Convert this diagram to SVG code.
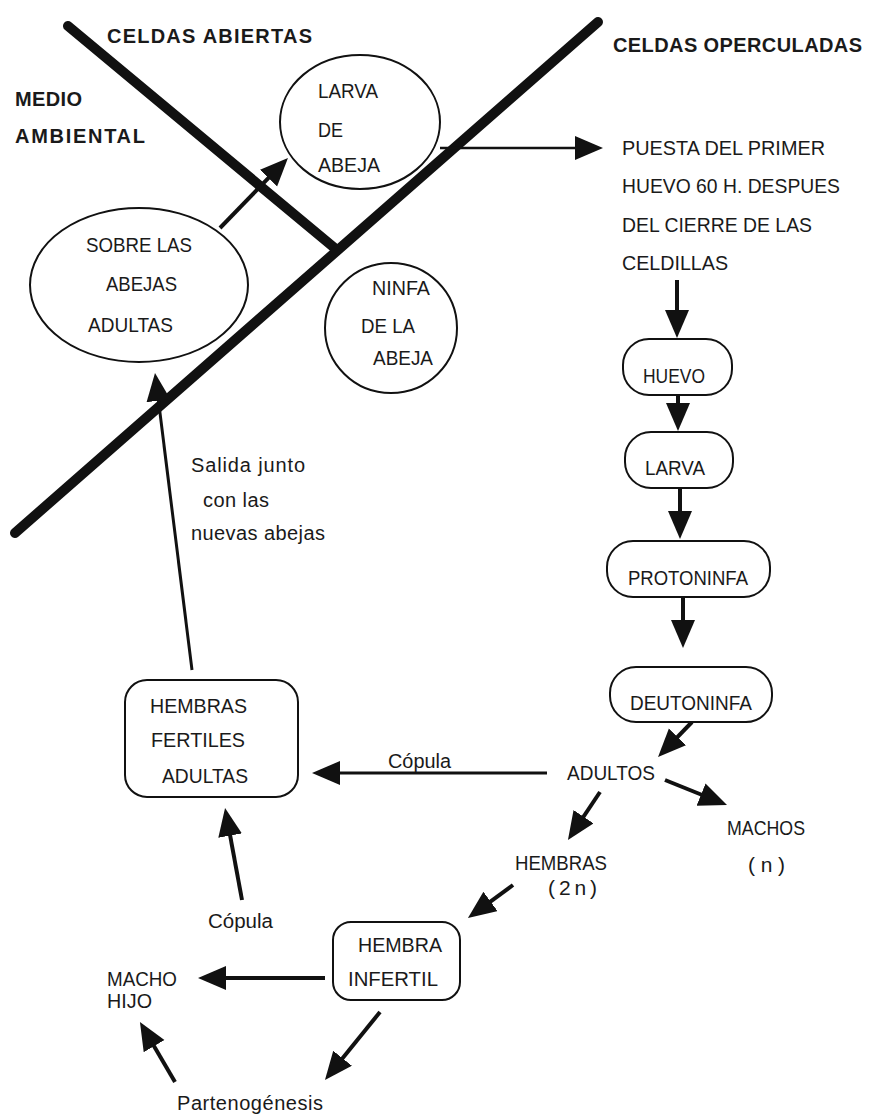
<svg xmlns="http://www.w3.org/2000/svg" width="871" height="1116" viewBox="0 0 871 1116">
<style>
.t{font-family:"Liberation Sans",Arial,sans-serif;font-size:21px;fill:#1a1a1a}
.b{font-family:"Liberation Sans",Arial,sans-serif;font-size:20px;font-weight:bold;fill:#1a1a1a}
.l{font-family:"Liberation Sans",Arial,sans-serif;font-size:20px;fill:#1a1a1a}
.sh{fill:#fff;stroke:#111;stroke-width:2}
.wall{stroke:#111;stroke-width:10;stroke-linecap:round;fill:none}
.a{stroke:#111;stroke-width:4;fill:none;marker-end:url(#ah)}
.a2{stroke:#111;stroke-width:2.5;fill:none;marker-end:url(#ah)}
</style>
<defs>
<marker id="ah" markerUnits="userSpaceOnUse" markerWidth="30" markerHeight="26" refX="20" refY="12" orient="auto">
<path d="M0,0 L28,12 L0,24 z" fill="#111"/>
</marker>
</defs>
<rect width="871" height="1116" fill="#fff"/>

<g id="larva-abeja">
<ellipse class="sh" cx="360" cy="122" rx="80" ry="67"/>
<text class="t" x="318" y="98" textLength="60" lengthAdjust="spacingAndGlyphs">LARVA</text>
<text class="t" x="318" y="137" textLength="25" lengthAdjust="spacingAndGlyphs">DE</text>
<text class="t" x="318" y="172" textLength="62" lengthAdjust="spacingAndGlyphs">ABEJA</text>
</g>

<g id="sobre-abejas">
<ellipse class="sh" cx="139" cy="285" rx="109" ry="77"/>
<text class="t" x="86" y="252" textLength="106" lengthAdjust="spacingAndGlyphs">SOBRE LAS</text>
<text class="t" x="106" y="291" textLength="71" lengthAdjust="spacingAndGlyphs">ABEJAS</text>
<text class="t" x="88" y="332" textLength="85" lengthAdjust="spacingAndGlyphs">ADULTAS</text>
</g>

<g id="ninfa-abeja">
<ellipse class="sh" cx="391" cy="328" rx="66" ry="65"/>
<text class="t" x="372" y="295" textLength="58" lengthAdjust="spacingAndGlyphs">NINFA</text>
<text class="t" x="361" y="333" textLength="54" lengthAdjust="spacingAndGlyphs">DE LA</text>
<text class="t" x="373" y="365" textLength="60" lengthAdjust="spacingAndGlyphs">ABEJA</text>
</g>

<g id="walls">
<line class="wall" x1="68" y1="26" x2="337" y2="250"/>
<line class="wall" x1="15" y1="533" x2="598" y2="22"/>
</g>

<g id="labels">
<text class="b" x="107" y="43" textLength="205" lengthAdjust="spacing">CELDAS ABIERTAS</text>
<text class="b" x="15" y="106" textLength="67" lengthAdjust="spacing">MEDIO</text>
<text class="b" x="15" y="143" textLength="130" lengthAdjust="spacing">AMBIENTAL</text>
<text class="b" x="613" y="52" textLength="249" lengthAdjust="spacing">CELDAS OPERCULADAS</text>
</g>

<g id="connectors">
<line class="a" x1="220" y1="228" x2="282.4" y2="163.7"/>
<line class="a2" x1="440" y1="148" x2="595" y2="148"/>
<line class="a" x1="677" y1="280" x2="677" y2="330"/>
<line class="a" x1="678" y1="395" x2="678" y2="423"/>
<line class="a" x1="680" y1="488" x2="680" y2="531"/>
<line class="a" x1="683" y1="597" x2="683" y2="640"/>
<line class="a" x1="692" y1="722" x2="663.6" y2="751.3"/>
<line class="a" x1="547" y1="773" x2="320" y2="773" style="stroke-width:3"/>
<line class="a" x1="665" y1="780" x2="719.6" y2="802"/>
<line class="a" x1="600" y1="792" x2="572.4" y2="833.3"/>
<line class="a" x1="513" y1="885" x2="474.4" y2="913.3"/>
<line class="a" x1="325" y1="978" x2="206" y2="978"/>
<line class="a" x1="380" y1="1012" x2="330" y2="1073.8"/>
<line class="a" x1="175" y1="1082" x2="144" y2="1028.9"/>
<line class="a" x1="242" y1="900" x2="226.5" y2="815.9"/>
<line class="a" x1="192" y1="670" x2="156" y2="380.9" style="stroke-width:3"/>
<text class="l" x="388" y="768" textLength="63" lengthAdjust="spacingAndGlyphs">Cópula</text>
<text class="l" x="208" y="928" textLength="65" lengthAdjust="spacingAndGlyphs">Cópula</text>
<text class="l" x="191" y="472" textLength="114" lengthAdjust="spacing">Salida  junto</text>
<text class="l" x="203" y="507" textLength="66" lengthAdjust="spacing">con las</text>
<text class="l" x="191" y="540" textLength="134" lengthAdjust="spacing">nuevas abejas</text>
</g>

<g id="puesta">
<text class="t" x="622" y="155" textLength="203" lengthAdjust="spacingAndGlyphs">PUESTA DEL PRIMER</text>
<text class="t" x="622" y="193" textLength="218" lengthAdjust="spacingAndGlyphs">HUEVO 60 H. DESPUES</text>
<text class="t" x="622" y="232" textLength="190" lengthAdjust="spacingAndGlyphs">DEL CIERRE DE LAS</text>
<text class="t" x="622" y="270" textLength="106" lengthAdjust="spacingAndGlyphs">CELDILLAS</text>
</g>

<g id="huevo">
<rect class="sh" x="623" y="339" width="109" height="56" rx="26"/>
<text class="t" x="643" y="383" textLength="62" lengthAdjust="spacingAndGlyphs">HUEVO</text>
</g>

<g id="larva">
<rect class="sh" x="625" y="432" width="108" height="56" rx="26"/>
<text class="t" x="645" y="475" textLength="60" lengthAdjust="spacingAndGlyphs">LARVA</text>
</g>

<g id="protoninfa">
<rect class="sh" x="607" y="541" width="163" height="56" rx="26"/>
<text class="t" x="628" y="585" textLength="120" lengthAdjust="spacingAndGlyphs">PROTONINFA</text>
</g>

<g id="deutoninfa">
<rect class="sh" x="610" y="667" width="162" height="55" rx="26"/>
<text class="t" x="630" y="710" textLength="122" lengthAdjust="spacingAndGlyphs">DEUTONINFA</text>
</g>

<g id="adultos">
<text class="t" x="567" y="780" textLength="88" lengthAdjust="spacingAndGlyphs">ADULTOS</text>
</g>

<g id="machos">
<text class="t" x="727" y="835" textLength="78" lengthAdjust="spacingAndGlyphs">MACHOS</text>
<text class="t" x="748" y="872" textLength="37" lengthAdjust="spacing">( n )</text>
</g>

<g id="hembras">
<text class="t" x="515" y="870" textLength="92" lengthAdjust="spacingAndGlyphs">HEMBRAS</text>
<text class="t" x="548" y="895" textLength="49" lengthAdjust="spacing">( 2 n )</text>
</g>

<g id="hembras-fertiles">
<rect class="sh" x="125" y="680" width="173" height="117" rx="22"/>
<text class="t" x="150" y="713" textLength="97" lengthAdjust="spacingAndGlyphs">HEMBRAS</text>
<text class="t" x="151" y="747" textLength="94" lengthAdjust="spacingAndGlyphs">FERTILES</text>
<text class="t" x="162" y="783" textLength="86" lengthAdjust="spacingAndGlyphs">ADULTAS</text>
</g>

<g id="hembra-infertil">
<rect class="sh" x="333" y="922" width="127" height="78" rx="18"/>
<text class="t" x="358" y="952" textLength="84" lengthAdjust="spacingAndGlyphs">HEMBRA</text>
<text class="t" x="348" y="986" textLength="90" lengthAdjust="spacingAndGlyphs">INFERTIL</text>
</g>

<g id="macho-hijo">
<text class="t" x="107" y="986" textLength="70" lengthAdjust="spacingAndGlyphs">MACHO</text>
<text class="t" x="107" y="1008" textLength="45" lengthAdjust="spacingAndGlyphs">HIJO</text>
</g>

<g id="partenogenesis">
<text class="l" x="177" y="1110" textLength="146" lengthAdjust="spacing">Partenogénesis</text>
</g>
</svg>
